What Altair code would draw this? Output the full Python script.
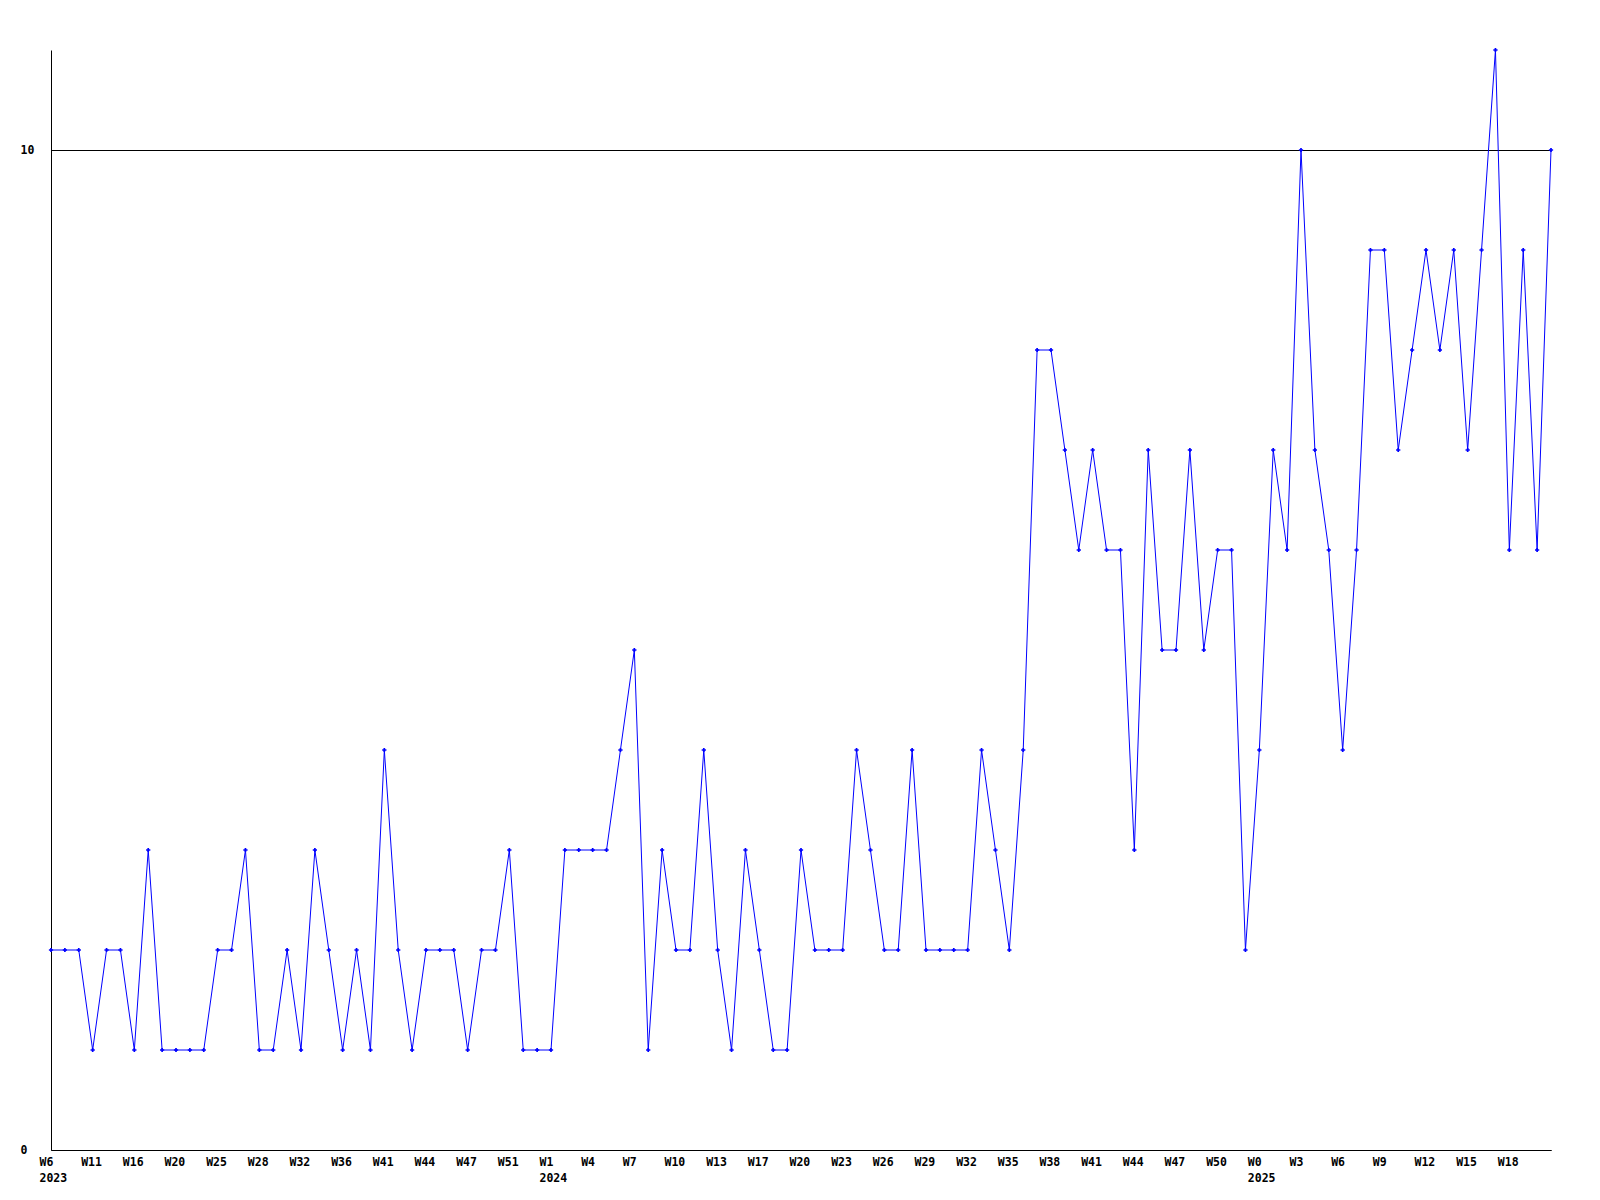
import altair as alt
import pandas as pd

# Weekly counts (one value per plotted point)
values = [2, 2, 2, 1, 2, 2, 1, 3, 1, 1, 1, 1, 2, 2, 3, 1, 1, 2, 1, 3,
          2, 1, 2, 1, 4, 2, 1, 2, 2, 2, 1, 2, 2, 3, 1, 1,
          1, 3, 3, 3, 3, 4, 5, 1, 3, 2, 2, 4, 2, 1, 3, 2, 1, 1, 3, 2,
          2, 2, 4, 3, 2, 2, 4, 2, 2, 2, 2, 4, 3, 2,
          4, 8, 8, 7, 6, 7, 6, 6, 3, 7, 5, 5, 7, 5, 6, 6, 2, 4, 7, 6,
          10, 7, 6, 4, 6, 9, 9, 7, 8, 9, 8, 9, 7, 9, 11, 6, 9, 6, 10]

# Tick labels (every third point)
week_labels = ["W6", "W11", "W16", "W20", "W25", "W28", "W32", "W36", "W41", "W44",
               "W47", "W51", "W1", "W4", "W7", "W10", "W13", "W17", "W20", "W23",
               "W26", "W29", "W32", "W35", "W38", "W41", "W44", "W47", "W50", "W0",
               "W3", "W6", "W9", "W12", "W15", "W18"]
year_at_label = {0: "2023", 12: "2024", 29: "2025"}

y_ticks = [0, 10]

df = pd.DataFrame({"i": list(range(len(values))), "v": values})

label_items = []
for k, w in enumerate(week_labels):
    if k in year_at_label:
        label_items.append("['%s','%s']" % (w, year_at_label[k]))
    else:
        label_items.append("['%s']" % w)
label_expr = "[" + ",".join(label_items) + "][round(datum.value/3)]"

FONT = "DejaVu Sans Mono"

x = alt.X(
    "i:Q",
    scale=alt.Scale(domain=[0, len(values) - 1], nice=False, zero=False),
    axis=alt.Axis(
        values=[3 * k for k in range(len(week_labels))],
        labelExpr=label_expr,
        title=None,
        grid=False,
        ticks=False,
        tickSize=0,
        domainColor="black",
        domainWidth=1,
        labelAlign="left",
        labelOffset=-12,
        labelBaseline="top",
        labelPadding=6,
        labelLineHeight=16,
        labelFont=FONT,
        labelFontWeight="bold",
        labelFontSize=11.5,
        labelColor="black",
        labelOverlap=False,
        labelFlush=False,
    ),
)
y = alt.Y(
    "v:Q",
    scale=alt.Scale(domain=[0, 11], nice=False),
    axis=alt.Axis(
        values=y_ticks,
        title=None,
        grid=True,
        gridColor="black",
        gridWidth=1,
        gridOpacity=1,
        ticks=False,
        tickSize=0,
        domainColor="black",
        domainWidth=1,
        labelAlign="left",
        labelPadding=31,
        labelBaseline="middle",
        labelFont=FONT,
        labelFontWeight="bold",
        labelFontSize=11.5,
        labelColor="black",
    ),
)

line = alt.Chart(df).mark_line(color="#0000ff", strokeWidth=1, clip=False).encode(x=x, y=y)
pts = alt.Chart(df).mark_point(shape="cross", filled=True, color="#0000ff", size=18, opacity=1).encode(x=x, y=y)

chart = alt.layer(line, pts).properties(
    width=1500,
    height=1100,
    autosize=alt.AutoSizeParams(type="none"),
    padding={"left": 43, "top": 42, "right": 30, "bottom": 40},
    background="white",
).configure_view(stroke=None)

chart.save("out.html", embed_options={"renderer": "svg", "actions": False})
